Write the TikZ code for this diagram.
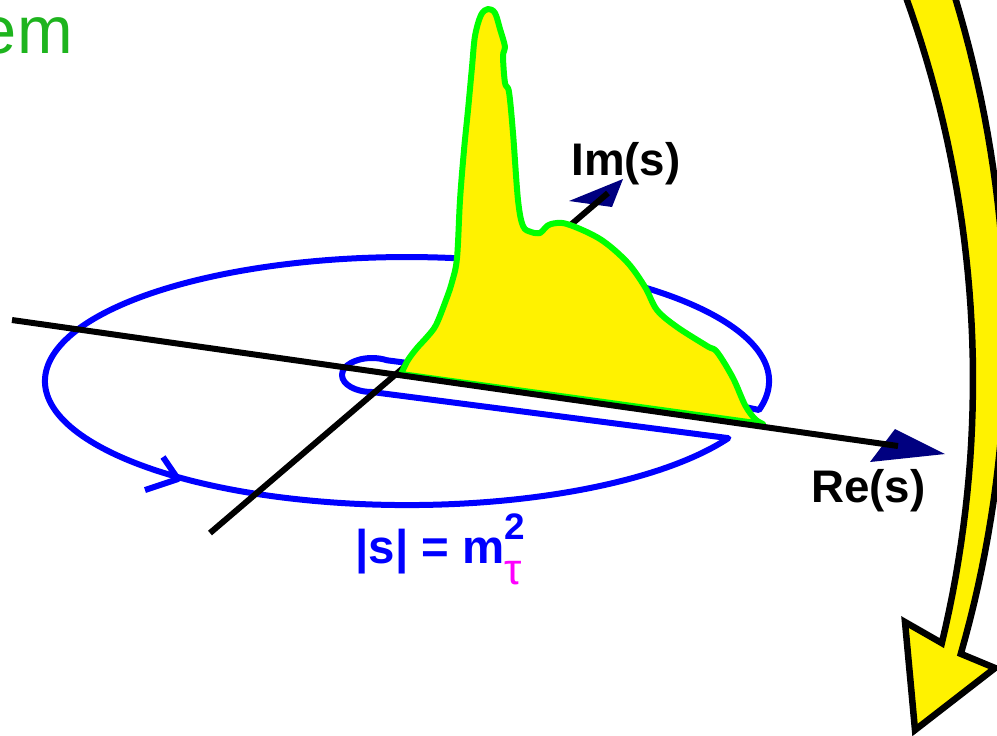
\documentclass[tikz,border=0pt]{standalone}
\usepackage{fontspec}
\setmainfont{Liberation Sans}
\definecolor{contourblue}{RGB}{0,0,255}
\definecolor{tipnavy}{RGB}{0,0,128}
\definecolor{peakgreen}{RGB}{0,255,0}
\definecolor{titlegreen}{RGB}{30,180,30}
\definecolor{taupink}{RGB}{255,0,255}

\begin{document}
\begin{tikzpicture}[x=0.02cm, y=-0.02cm,
  every node/.style={inner sep=0pt},
  lbl/.style={font=\bfseries\fontsize{26}{30}\selectfont},
  axis/.style={line width=0.12cm, black},
  axistip/.style={fill=tipnavy},
  contour/.style={line width=0.12cm, contourblue, line join=round},
  peak/.style={fill=yellow, draw=peakgreen, line width=0.12cm, line join=round},
  bigarrow/.style={fill=yellow, draw=black, line width=0.13cm, line join=miter}
]
\useasboundingbox (0,0) rectangle (997,735);

% points of the complex plane
\coordinate (bigS) at (759,410);
\coordinate (cutlow) at (372,392);
\coordinate (cuttop) at (745,407);
\coordinate (reW) at (12,320);
\coordinate (reE) at (898,446);
\coordinate (imS) at (210,533);
\coordinate (imN) at (608,193);

% keyhole contour
\draw[contour] (bigS) arc[start angle=13.5, end angle=-332.6, x radius=362, y radius=124]
  -- (cutlow) arc[start angle=90, end angle=300, x radius=30, y radius=17]
  -- (cuttop) -- cycle;
\draw[contour] (163,457) -- (178,479) -- (145,490);

% imaginary axis
\fill[axistip] (623,179) -- (569,201) -- (612,207) -- cycle;
\draw[axis] (imS) -- (imN);

% spectral function
\path[peak] plot[smooth, tension=0.55] coordinates {
  (401,374) (408,360) (417,348) (427,337) (436,325) (446,300) (452,282)
  (457,258) (460,200) (464,150) (468,110) (472,67) (475,36) (481,15)
  (488,9) (495,13) (500,29) (505,47) (503,56) (505,83) (509,92)
  (513,133) (518,200) (523,226) (531,232) (540,233) (545,228) (551,224)
  (567,224) (600,239) (627,262) (645,287) (657,310) (677,327) (707,346)
  (717,352) (733,378) (745,405) (755,419) (763,424)} -- cycle;

% real axis
\fill[axistip] (895,429) -- (945,454) -- (870,462) -- cycle;
\draw[axis] (reW) -- (reE);

% labels
\node[lbl, anchor=base west] (relbl) at (811,502) {Re(s)};
\node[lbl, anchor=base west] (imlbl) at (571,175) {Im(s)};
\node[lbl, anchor=base west, text=contourblue, font=\bfseries\fontsize{27}{30}\selectfont] (radius) at (355,563)
  {|s| = m\rlap{\raisebox{0.5em}{\fontsize{21}{24}\selectfont 2}}\raisebox{-0.45em}{\mdseries\fontsize{25}{26}\selectfont\textcolor{taupink}{τ}}};
\node[anchor=base east, text=titlegreen, font=\fontsize{38}{44}\selectfont] (title) at (73,53) {em};

% curved arrow
\filldraw[bigarrow]
  plot[domain=-20:13.8, samples=40] ({-154+(1174-(\x+20)*0.77)*cos(\x)}, {380+(1174-(\x+20)*0.77)*sin(\x)})
  -- (995,668) -- (915,730) -- (905,622)
  -- plot[domain=13.5:-20, samples=40] ({-154+1127*cos(\x)}, {380+1127*sin(\x)}) -- cycle;
\end{tikzpicture}
\end{document}
